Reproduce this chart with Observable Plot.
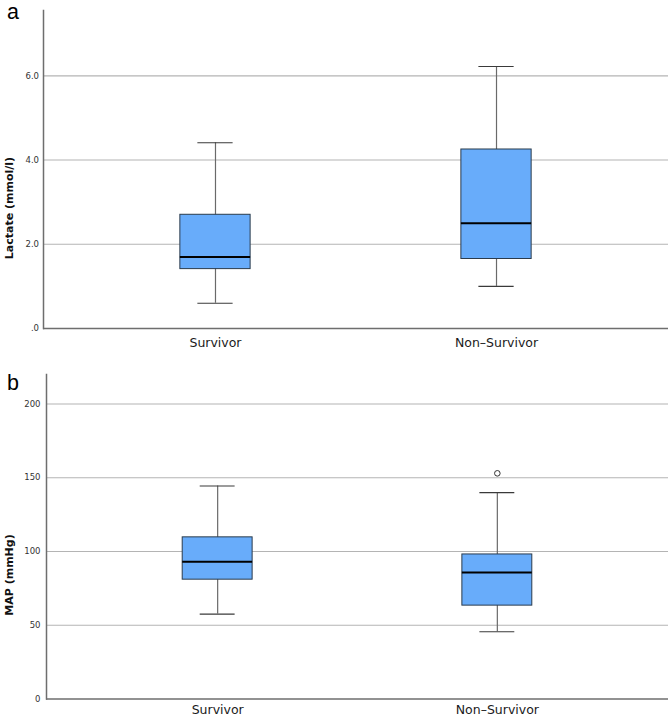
<!DOCTYPE html>
<html><head><meta charset="utf-8">
<script src="https://cdn.jsdelivr.net/npm/d3@7"></script>
<script src="https://cdn.jsdelivr.net/npm/@observablehq/plot@0.6"></script>
<style>
body{margin:0;background:#fff;}
#wrap{position:relative;width:669px;height:717px;overflow:hidden;font-family:"DejaVu Sans",sans-serif;background:#fff;}
.panel{position:absolute;left:0;}
.letter{position:absolute;left:7px;font-size:21.5px;font-family:"Liberation Sans",Arial,sans-serif;color:#000;line-height:15px;}
.ytitle{position:absolute;font-weight:bold;font-size:11px;font-family:"DejaVu Sans",sans-serif;color:#111;white-space:nowrap;line-height:1;transform:translate(-50%,-50%) rotate(-90deg);}
</style></head>
<body><div id="wrap">
<div class="panel" id="pa" style="top:0px"></div>
<div class="panel" id="pb" style="top:355px"></div>
<div class="letter" style="top:4.6px">a</div>
<div class="letter" style="top:375.8px">b</div>
<div class="ytitle" style="left:8.5px;top:208px">Lactate (mmol/l)</div>
<div class="ytitle" style="left:8.5px;top:575px">MAP (mmHg)</div>
</div>
<script>
const groups = ["Survivor", "Non–Survivor"];

const lactateLow = [0.60, 1.00];
const lactateQ1 = [1.41, 1.65];
const lactateMedian = [1.70, 2.50];
const lactateQ3 = [2.70, 4.25];
const lactateHigh = [4.41, 6.22];
const lactateTicks = [0, 2, 4, 6];
const lactateTickLabels = [".0", "2.0", "4.0", "6.0"];

const mapLow = [57.6, 45.6];
const mapQ1 = [80.9, 63.3];
const mapMedian = [93.1, 85.8];
const mapQ3 = [109.6, 98.0];
const mapHigh = [144.4, 139.9];
const mapOutlierGroup = ["Non–Survivor"];
const mapOutlierValue = [153];
const mapTicks = [0, 50, 100, 150, 200];
const mapTickLabels = ["0", "50", "100", "150", "200"];

function panel(o) {
  const rows = groups.map((g, i) => ({group: g, low: o.low[i], q1: o.q1[i], median: o.median[i], q3: o.q3[i], high: o.high[i]}));
  const outliers = (o.outGroup || []).map((g, i) => ({group: g, value: o.outValue[i]}));
  return Plot.plot({
    width: 669,
    height: o.height,
    marginLeft: o.marginLeft,
    marginRight: 1,
    marginTop: o.marginTop,
    marginBottom: o.marginBottom,
    style: {fontFamily: "DejaVu Sans, sans-serif", color: "#222", background: "white", overflow: "visible"},
    x: {type: "band", domain: groups, paddingInner: 0.75, paddingOuter: 0.487, round: false, label: null},
    y: {domain: o.domain, label: null},
    marks: [
      Plot.gridY(o.ticks.filter(t => t > 0), {stroke: "#b4b4b4", strokeOpacity: 1, strokeWidth: 1.2}),
      Plot.ruleY([0], {stroke: "#6e6e6e", strokeWidth: 1.5}),
      Plot.frame({anchor: "left", stroke: "#6e6e6e", strokeWidth: 1.5}),
      Plot.ruleX(rows, {x: "group", y1: "low", y2: "high", stroke: "#6a6a6a", strokeWidth: 1.2}),
      Plot.tickY(rows, {x: "group", y: "low", insetLeft: 17.5, insetRight: 17.5, stroke: "#3a3a3a", strokeWidth: 1.2}),
      Plot.tickY(rows, {x: "group", y: "high", insetLeft: 17.5, insetRight: 17.5, stroke: "#3a3a3a", strokeWidth: 1.2}),
      Plot.barY(rows, {x: "group", y1: "q1", y2: "q3", fill: "#68acfa", stroke: "#2a3b4c", strokeWidth: 1}),
      Plot.tickY(rows, {x: "group", y: "median", stroke: "#000", strokeWidth: 2}),
      Plot.dot(outliers, {x: "group", y: "value", r: 2.8, stroke: "#333", fill: "white", strokeWidth: 1}),
      Plot.axisY({ticks: o.ticks, tickFormat: d => o.labels[o.ticks.indexOf(d)], tickSize: 0, tickPadding: o.tickPad, fontSize: 8.5, fill: "#333", label: null}),
      Plot.axisX({tickSize: 0, tickPadding: o.xPad, fontSize: 12.5, fill: "#1a1a1a", label: null})
    ]
  });
}

document.getElementById("pa").append(panel({
  low: lactateLow, q1: lactateQ1, median: lactateMedian, q3: lactateQ3, high: lactateHigh,
  ticks: lactateTicks, labels: lactateTickLabels, domain: [0, 7.55],
  height: 355, marginLeft: 43, marginTop: 10, marginBottom: 27, tickPad: 4.5, xPad: 10
}));
document.getElementById("pb").append(panel({
  low: mapLow, q1: mapQ1, median: mapMedian, q3: mapQ3, high: mapHigh,
  outGroup: mapOutlierGroup, outValue: mapOutlierValue,
  ticks: mapTicks, labels: mapTickLabels, domain: [0, 220],
  height: 362, marginLeft: 46, marginTop: 19, marginBottom: 18.5, tickPad: 6, xPad: 6.5
}));
</script>
</body></html>
